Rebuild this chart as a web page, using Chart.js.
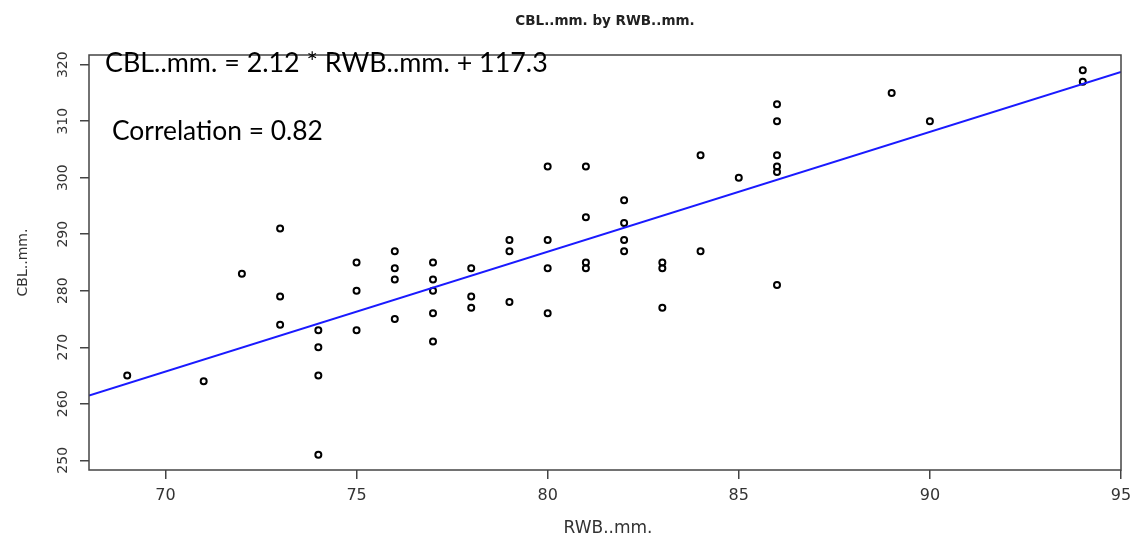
<!DOCTYPE html>
<html>
<head>
<meta charset="utf-8">
<script src="https://cdn.jsdelivr.net/npm/chart.js@4.4.1/dist/chart.umd.min.js"></script>
<style>
  html, body { margin: 0; padding: 0; background: #ffffff; }
  #c { display: block; }
</style>
</head>
<body>
<canvas id="c" width="1133" height="538"></canvas>
<script>
// ---- data ----
const rwb = [69, 71, 72, 73, 73, 73, 74, 74, 74, 74, 75, 75, 75, 76, 76, 76, 76,
             77, 77, 77, 77, 77, 78, 78, 78, 79, 79, 79, 80, 80, 80, 80,
             81, 81, 81, 81, 82, 82, 82, 82, 83, 83, 83, 84, 84, 85,
             86, 86, 86, 86, 86, 86, 89, 90, 94, 94];
const cbl = [265, 264, 283, 291, 279, 274, 273, 270, 265, 251, 285, 280, 273, 287, 284, 282, 275,
             285, 282, 280, 276, 271, 284, 279, 277, 289, 287, 278, 302, 289, 284, 276,
             302, 293, 285, 284, 296, 292, 289, 287, 285, 284, 277, 304, 287, 300,
             313, 310, 304, 302, 301, 281, 315, 310, 319, 317];
const xTicks = [70, 75, 80, 85, 90, 95];
const yTicks = [250, 260, 270, 280, 290, 300, 310, 320];
const fitSlope = 2.12;
const fitIntercept = 117.3;
const correlation = 0.82;
const chartTitle = "CBL..mm. by RWB..mm.";
const xTitle = "RWB..mm.";
const yTitle = "CBL..mm.";
const eqText = "CBL..mm. = 2.12 * RWB..mm. + 117.3";
const corText = "Correlation = 0.82";

// axis extents (R-style 4% expansion of data range)
const xMin = 68, xMax = 95;
const yMin = 248.28, yMax = 321.72;

const points = rwb.map((x, i) => ({ x: x, y: cbl[i] }));
const fitLine = [xMin, xMax].map(x => ({ x: x, y: fitSlope * x + fitIntercept }));

const FONT = "'DejaVu Sans', Verdana, sans-serif";
const AXIS_COLOR = '#444444';
const TEXT_COLOR = '#333333';

const decor = {
  id: 'decor',
  afterDraw(chart) {
    const ctx = chart.ctx;
    const a = chart.chartArea;
    const ys = chart.scales.y;
    ctx.save();
    // box
    ctx.strokeStyle = AXIS_COLOR;
    ctx.lineWidth = 1.5;
    ctx.strokeRect(a.left, a.top, a.right - a.left, a.bottom - a.top);

    // y tick labels (rotated, R style)
    ctx.fillStyle = TEXT_COLOR;
    ctx.font = "14px " + FONT;
    ctx.textAlign = 'center';
    ctx.textBaseline = 'middle';
    yTicks.forEach(v => {
      const py = ys.getPixelForValue(v);
      ctx.save();
      ctx.translate(63, py);
      ctx.rotate(-Math.PI / 2);
      ctx.fillText(String(v), 0, 0);
      ctx.restore();
    });

    // title
    ctx.fillStyle = '#222222';
    ctx.font = "bold 13.5px " + FONT;
    ctx.fillText(chartTitle, (a.left + a.right) / 2, 21);

    // axis titles
    ctx.fillStyle = TEXT_COLOR;
    ctx.font = "17px " + FONT;
    ctx.fillText(xTitle, (a.left + a.right) / 2 + 3, 529);
    ctx.save();
    ctx.translate(23, (a.top + a.bottom) / 2);
    ctx.rotate(-Math.PI / 2);
    ctx.font = "14px " + FONT;
    ctx.fillText(yTitle, 0, 0);
    ctx.restore();

    // annotations
    ctx.fillStyle = '#000000';
    ctx.textAlign = 'left';
    ctx.textBaseline = 'alphabetic';
    const fitFont = (txt, target) => {
      ctx.font = "22px Lato, 'Open Sans', sans-serif";
      const w = ctx.measureText(txt).width;
      const size = 22 * target / w;
      ctx.font = size.toFixed(2) + "px Lato, 'Open Sans', sans-serif";
    };
    fitFont(eqText, 443);
    ctx.fillText(eqText, 105, 72);
    fitFont(corText, 211);
    ctx.fillText(corText, 112, 140);
    ctx.restore();
  }
};

new Chart(document.getElementById('c'), {
  type: 'scatter',
  data: {
    datasets: [
      {
        type: 'line',
        data: fitLine,
        borderColor: '#1a1aff',
        borderWidth: 2,
        pointRadius: 0,
        fill: false,
        tension: 0
      },
      {
        data: points,
        pointStyle: 'circle',
        pointRadius: 3,
        pointBorderWidth: 2,
        pointBorderColor: '#000000',
        pointBackgroundColor: 'rgba(0,0,0,0)',
        showLine: false
      }
    ]
  },
  plugins: [decor],
  options: {
    responsive: false,
    animation: false,
    events: [],
    layout: { padding: { top: 55, right: 12, left: 0, bottom: 0 } },
    plugins: {
      legend: { display: false },
      title: { display: false },
      tooltip: { enabled: false }
    },
    scales: {
      x: {
        type: 'linear',
        min: xMin,
        max: xMax,
        afterBuildTicks: s => { s.ticks = xTicks.map(v => ({ value: v })); },
        afterFit: s => { s.height = 538 - 470; s.paddingLeft = 0; s.paddingRight = 0; },
        border: { display: false },
        grid: { drawOnChartArea: false, drawTicks: true, tickLength: 9, color: AXIS_COLOR, lineWidth: 1.5 },
        ticks: {
          color: TEXT_COLOR,
          font: { family: FONT, size: 16 },
          padding: 7,
          maxRotation: 0,
          autoSkip: false
        }
      },
      y: {
        type: 'linear',
        min: yMin,
        max: yMax,
        afterBuildTicks: s => { s.ticks = yTicks.map(v => ({ value: v })); },
        afterFit: s => { s.width = 89; s.paddingTop = 0; s.paddingBottom = 0; },
        border: { display: false },
        grid: { drawOnChartArea: false, drawTicks: true, tickLength: 9, color: AXIS_COLOR, lineWidth: 1.5 },
        ticks: { display: false }
      }
    }
  }
});
</script>
</body>
</html>
